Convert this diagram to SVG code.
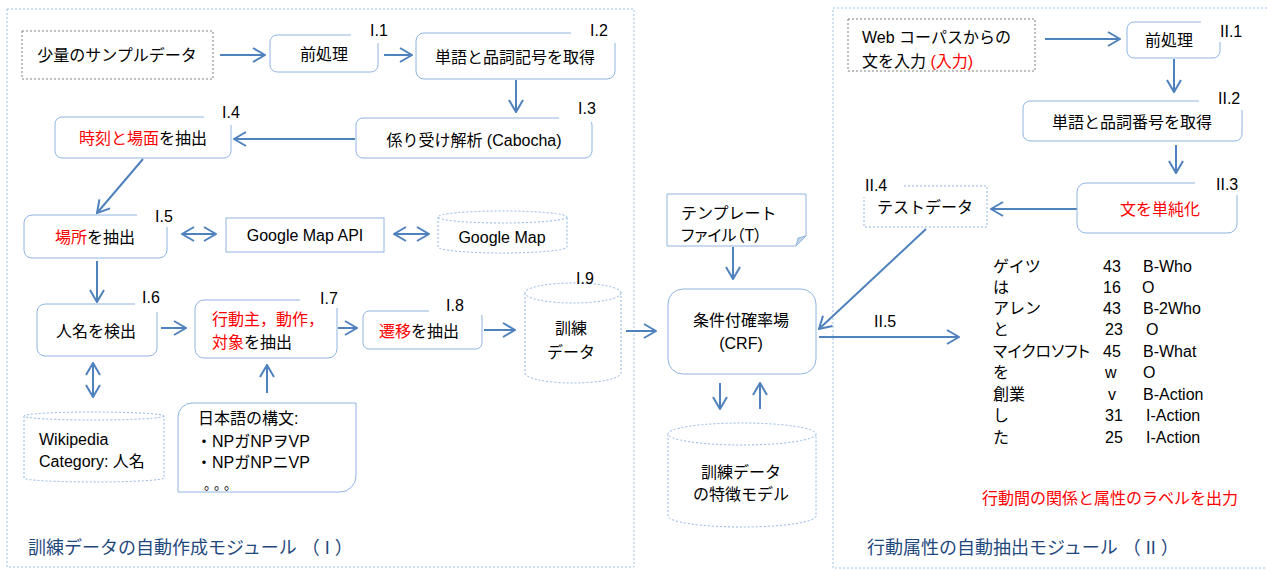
<svg xmlns="http://www.w3.org/2000/svg" width="1267" height="570" viewBox="0 0 1267 570">
<style>
.t{font-family:"Liberation Sans","Noto Sans CJK JP",sans-serif;font-size:16px;fill:#000}
.c{text-anchor:middle;dominant-baseline:central}
.m{dominant-baseline:central}
.red{fill:#ff0000}
.lbl{font-size:16px}
.ttl{font-size:18px;fill:#1f497d}
.palt{font-feature-settings:"palt" 1}
.box{fill:#fff;stroke:#8eb4e3;stroke-width:1}
.dbox{fill:#fff;stroke:#8eb4e3;stroke-width:1;stroke-dasharray:2 2}
.gbox{fill:#fff;stroke:#808080;stroke-width:1;stroke-dasharray:2 2}
.frame{fill:none;stroke:#9dc3e6;stroke-width:1;stroke-dasharray:2 2}
.msk{fill:#fff}
.conn{stroke:#4f81bd;stroke-width:2;fill:none;marker-end:url(#ah)}
.dbl{marker-start:url(#ah)}
</style>
<defs>
<marker id="ah" viewBox="0 0 14 16" refX="13" refY="8" markerWidth="14" markerHeight="16" markerUnits="userSpaceOnUse" orient="auto-start-reverse">
<path d="M1,1 L13,8 L1,15" fill="none" stroke="#4f81bd" stroke-width="2"/>
</marker>
</defs>
<rect width="1267" height="570" fill="#fff"/>

<g id="frames">
<rect class="frame" x="7" y="9" width="627" height="558"/>
<path class="frame" d="M1267,8 H833 V568 H1267"/>
<text class="t ttl" x="28" y="554">訓練データの自動作成モジュール （ I ）</text>
<text class="t ttl" x="867" y="554">行動属性の自動抽出モジュール （ II ）</text>
</g>

<g id="connectors">
<line class="conn" x1="220" y1="55" x2="265" y2="55"/>
<line class="conn" x1="384" y1="55" x2="412" y2="55"/>
<line class="conn" x1="516" y1="80" x2="516" y2="112"/>
<line class="conn" x1="355" y1="139" x2="234" y2="139"/>
<line class="conn" x1="143" y1="159" x2="97" y2="213"/>
<line class="conn dbl" x1="182" y1="234" x2="216" y2="234"/>
<line class="conn dbl" x1="394" y1="234" x2="429" y2="234"/>
<line class="conn" x1="97" y1="261" x2="97" y2="302"/>
<line class="conn" x1="161" y1="328" x2="186" y2="328"/>
<line class="conn" x1="338" y1="328" x2="357" y2="328"/>
<line class="conn" x1="484" y1="330" x2="515" y2="330"/>
<line class="conn dbl" x1="93" y1="363" x2="93" y2="397"/>
<line class="conn" x1="267" y1="393" x2="267" y2="365"/>
<line class="conn" x1="626" y1="331" x2="656" y2="331"/>
<line class="conn" x1="733" y1="247" x2="733" y2="279"/>
<line class="conn" x1="720" y1="383" x2="720" y2="409"/>
<line class="conn" x1="760" y1="409" x2="760" y2="383"/>
<line class="conn" x1="1045" y1="39" x2="1120" y2="39"/>
<line class="conn" x1="1174" y1="59" x2="1174" y2="92"/>
<line class="conn" x1="1176" y1="145" x2="1176" y2="173"/>
<line class="conn" x1="1077" y1="209" x2="991" y2="209"/>
<line class="conn" x1="926" y1="229" x2="819" y2="329"/>
<line class="conn" x1="819" y1="337" x2="959" y2="337"/>
</g>

<g id="n-sample">
<rect class="gbox" x="22" y="31" width="191" height="48"/>
<text class="t c" x="117" y="55">少量のサンプルデータ</text>
</g>

<g id="n-I1">
<rect class="box" x="270" y="35" width="108" height="37" rx="7"/>
<rect class="msk" x="351" y="18" width="32" height="25"/>
<text class="t c" x="324" y="54">前処理</text>
<text class="t lbl" x="370" y="36">I.1</text>
</g>

<g id="n-I2">
<rect class="box" x="416" y="33" width="199" height="46" rx="8"/>
<rect class="msk" x="571" y="18" width="50" height="25"/>
<text class="t c" x="515" y="57">単語と品詞記号を取得</text>
<text class="t lbl" x="590" y="36">I.2</text>
</g>

<g id="n-I3">
<rect class="box" x="356" y="118" width="236" height="40" rx="7"/>
<rect class="msk" x="559" y="98" width="38" height="24"/>
<text class="t c" x="474" y="140">係り受け解析 (Cabocha)</text>
<text class="t lbl" x="578" y="114">I.3</text>
</g>

<g id="n-I4">
<rect class="box" x="55" y="117" width="176" height="41" rx="7"/>
<rect class="msk" x="204" y="100" width="33" height="25"/>
<text class="t c" x="143" y="138"><tspan class="red">時刻と場面</tspan>を抽出</text>
<text class="t lbl" x="222" y="118">I.4</text>
</g>

<g id="n-I5">
<rect class="box" x="24" y="215" width="143" height="43" rx="8"/>
<rect class="msk" x="137" y="200" width="36" height="27"/>
<text class="t c" x="95" y="237"><tspan class="red">場所</tspan>を抽出</text>
<text class="t lbl" x="155" y="222">I.5</text>
</g>

<g id="n-gmapapi">
<rect class="box" x="226" y="218" width="158" height="34"/>
<text class="t c" x="305" y="235">Google Map API</text>
</g>

<g id="n-gmap">
<path class="dbox" d="M438,217 V247 A64.5,6 0 0 0 567,247 V217"/>
<ellipse class="dbox" cx="502.5" cy="217" rx="64.5" ry="6"/>
<text class="t c" x="502" y="237">Google Map</text>
</g>

<g id="n-I6">
<rect class="box" x="37" y="304" width="120" height="52" rx="8"/>
<rect class="msk" x="135" y="286" width="28" height="26"/>
<text class="t c" x="96" y="331">人名を検出</text>
<text class="t lbl" x="142" y="303">I.6</text>
</g>

<g id="n-I7">
<rect class="box" x="195" y="300" width="142" height="58" rx="9"/>
<rect class="msk" x="300" y="285" width="43" height="23"/>
<text class="t m red" x="212" y="319">行動主，動作，</text>
<text class="t m" x="212" y="342"><tspan class="red">対象</tspan>を抽出</text>
<text class="t lbl" x="320" y="304">I.7</text>
</g>

<g id="n-I8">
<rect class="box" x="363" y="311" width="119" height="38" rx="6"/>
<rect class="msk" x="429" y="294" width="58" height="21"/>
<text class="t c" x="419" y="331"><tspan class="red">遷移</tspan>を抽出</text>
<text class="t lbl" x="446" y="311">I.8</text>
</g>

<g id="n-I9">
<path class="dbox" d="M525,293 V373 A48,10 0 0 0 621,373 V293"/>
<ellipse class="dbox" cx="573" cy="293" rx="48" ry="10"/>
<text class="t c" x="571" y="328">訓練</text>
<text class="t c" x="571" y="352">データ</text>
<text class="t lbl" x="576" y="284">I.9</text>
</g>

<g id="n-wiki">
<path class="dbox" d="M24,416 V478 A70,4 0 0 0 164,478 V416"/>
<ellipse class="dbox" cx="94" cy="416" rx="70" ry="4"/>
<text class="t m" x="39" y="439">Wikipedia</text>
<text class="t m" x="39" y="461">Category: 人名</text>
</g>

<g id="n-syntax">
<path class="box" d="M178,417 A14,14 0 0 1 192,403 H356 V476 A16,16 0 0 1 340,492 H178 Z"/>
<text class="t m" x="198" y="418">日本語の構文:</text>
<text class="t m" x="196" y="441">・NPガNPヲVP</text>
<text class="t m" x="196" y="462">・NPガNPニVP</text>
<text class="t m" x="204" y="484" style="font-size:13px" textLength="33">。。。</text>
</g>

<g id="n-template">
<path class="box" d="M667,194 H806 V236 L796,246 H667 Z"/>
<path d="M796,246 L798,238 L806,236 Z" fill="#c6d3e3" stroke="#8eb4e3" stroke-width="1"/>
<text class="t m" x="681" y="213">テンプレート</text>
<text class="t m palt" x="681" y="235">ファイル（T）</text>
</g>

<g id="n-crf">
<rect class="box" x="668" y="289" width="148" height="85" rx="15"/>
<text class="t c" x="741" y="320">条件付確率場</text>
<text class="t c" x="741" y="343">(CRF)</text>
</g>

<g id="n-model">
<path class="dbox" d="M668,434 V516 A74,11 0 0 0 816,516 V434"/>
<ellipse class="dbox" cx="742" cy="434" rx="74" ry="11"/>
<text class="t c" x="741" y="472">訓練データ</text>
<text class="t c" x="741" y="494">の特徴モデル</text>
</g>

<g id="n-web">
<rect class="gbox" x="848" y="19" width="187" height="52"/>
<text class="t m" x="862" y="37">Web コーパスからの</text>
<text class="t m" x="862" y="61">文を入力 <tspan class="red">(入力)</tspan></text>
</g>

<g id="n-II1">
<rect class="box" x="1127" y="22" width="93" height="36" rx="7"/>
<rect class="msk" x="1201" y="12" width="24" height="30"/>
<text class="t c" x="1169" y="40">前処理</text>
<text class="t lbl" x="1220" y="37">II.1</text>
</g>

<g id="n-II2">
<rect class="box" x="1023" y="101" width="219" height="40" rx="7"/>
<rect class="msk" x="1199" y="88" width="48" height="22"/>
<text class="t c" x="1132" y="122">単語と品詞番号を取得</text>
<text class="t lbl" x="1218" y="104">II.2</text>
</g>

<g id="n-II3">
<rect class="box" x="1077" y="183" width="160" height="50" rx="9"/>
<rect class="msk" x="1195" y="174" width="47" height="21"/>
<text class="t c red" x="1160" y="209">文を単純化</text>
<text class="t lbl" x="1216" y="190">II.3</text>
</g>

<g id="n-II4">
<rect class="dbox" x="864" y="186" width="123" height="41"/>
<rect class="msk" x="858" y="174" width="46" height="23"/>
<text class="t c" x="925" y="207">テストデータ</text>
<text class="t lbl" x="865" y="191">II.4</text>
</g>

<g id="n-II5">
<text class="t lbl" x="874" y="327">II.5</text>
</g>

<g id="n-table">
<text class="t m" x="993" y="266">ゲイツ</text><text class="t m" x="1103" y="266">43</text><text class="t m" x="1143" y="266">B-Who</text>
<text class="t m" x="993" y="287">は</text><text class="t m" x="1103" y="287">16</text><text class="t m" x="1142" y="287">O</text>
<text class="t m" x="993" y="308">アレン</text><text class="t m" x="1103" y="308">43</text><text class="t m" x="1143" y="308">B-2Who</text>
<text class="t m" x="993" y="329">と</text><text class="t m" x="1105" y="329">23</text><text class="t m" x="1146" y="329">O</text>
<text class="t m palt" x="993" y="351">マイクロソフト</text><text class="t m" x="1103" y="351">45</text><text class="t m" x="1143" y="351">B-What</text>
<text class="t m" x="993" y="372">を</text><text class="t m" x="1105" y="372">w</text><text class="t m" x="1143" y="372">O</text>
<text class="t m" x="993" y="394">創業</text><text class="t m" x="1108" y="394">v</text><text class="t m" x="1143" y="394">B-Action</text>
<text class="t m" x="993" y="415">し</text><text class="t m" x="1105" y="415">31</text><text class="t m" x="1146" y="415">I-Action</text>
<text class="t m" x="993" y="437">た</text><text class="t m" x="1105" y="437">25</text><text class="t m" x="1146" y="437">I-Action</text>
</g>

<g id="n-output">
<text class="t m red" x="982" y="498">行動間の関係と属性のラベルを出力</text>
</g>
</svg>
